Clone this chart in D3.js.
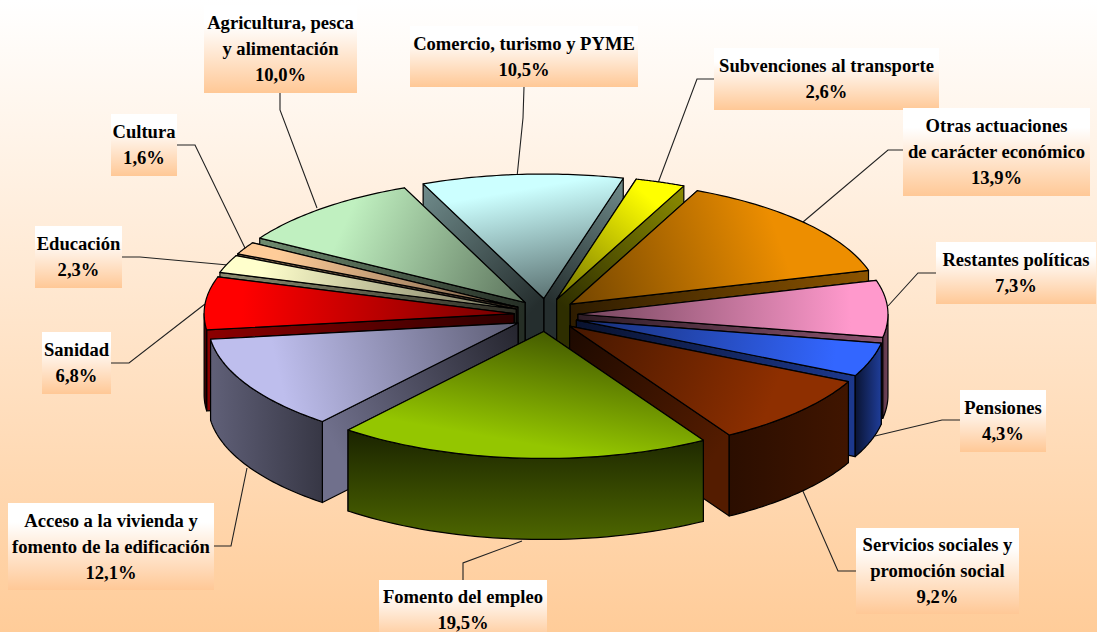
<!DOCTYPE html>
<html>
<head>
<meta charset="utf-8">
<script src="https://cdn.jsdelivr.net/npm/d3@7"></script>
<style>
  html, body { margin: 0; padding: 0; overflow: hidden; }
  text { font-family: "Liberation Serif", serif; font-weight: bold; font-size: 18.6px; fill: #000; }
</style>
</head>
<body>
<svg id="chart" width="1097" height="632"></svg>
<script>
// clockwise, starting with the slice at the back
const categories = [
  ["Comercio, turismo y PYME"],
  ["Subvenciones al transporte"],
  ["Otras actuaciones", "de carácter económico"],
  ["Restantes políticas"],
  ["Pensiones"],
  ["Servicios sociales y", "promoción social"],
  ["Fomento del empleo"],
  ["Acceso a la vivienda y", "fomento de la edificación"],
  ["Sanidad"],
  ["Educación"],
  ["Cultura"],
  ["Agricultura, pesca", "y alimentación"],
];
const values = [10.5, 2.6, 13.9, 7.3, 4.3, 9.2, 19.5, 12.1, 6.8, 2.3, 1.6, 10.0];
const colors = ["#ccffff", "#ffff00", "#ff9900", "#ff99cc", "#3366ff", "#993300",
                "#99cc00", "#ccccff", "#ff0000", "#ffffcc", "#ffcc99", "#ccffcc"];
// how bright the top face gets at the rim
const topPeak = [1, 1, 0.93, 1, 1, 0.93, 0.97, 0.93, 1, 1, 1, 0.94];

// label boxes [x0, y0, x1, y1], same order as categories
const labelBoxes = [
  [410, 26, 638, 87], [714, 48, 939, 110], [903, 108, 1090, 196], [936, 242, 1096, 304],
  [960, 390, 1046, 452], [856, 528, 1019, 614], [379, 580, 547, 640], [8, 503, 214, 590],
  [42, 332, 111, 394], [35, 226, 122, 288], [111, 114, 177, 176], [204, 5, 357, 93],
];
// leader lines from box to rim
const leaders = [
  [[524, 87], [523, 118], [517, 177]],
  [[714, 79], [697, 79], [658, 183]],
  [[903, 150], [888, 150], [803, 222]],
  [[936, 273], [918, 273], [888, 306]],
  [[960, 420], [942, 420], [875, 436]],
  [[856, 571], [838, 571], [802, 489]],
  [[463, 580], [463, 563], [522, 541]],
  [[214, 546], [231, 546], [247, 468]],
  [[111, 363], [129, 363], [205, 304]],
  [[122, 257], [140, 257], [228, 265]],
  [[177, 145], [195, 145], [245, 248]],
  [[280, 93], [280, 110], [317, 208]],
];
// shading of the rim wall: direction of gradient and dark factors at both ends
const rimShade = [
  null, null, null,
  { dir: [0, 0, 1, 0], f: [0.35, 0.45] },
  { dir: [0, 0, 1, 0], f: [0.2, 0.6] },
  { dir: [0, 0, 1, 0], f: [0.28, 0.42] },
  { dir: [0, 0, 0, 1], f: [0.17, 0.5] },
  { dir: [0, 0, 1, 0], f: [0.47, 0.27] },
  { dir: [0, 0, 0, 1], f: [0.35, 0.2] },
  null, null, null,
];

const width = 1097, height = 632;
const cx = 546, cy = 315; // pie centre on the top plane
const rx = 310, ryBack = 124.5, ryFront = 127, depth = 81;
const explodeX = 32, explodeY = 16.5;
const startDeg = -22.9;

const toRad = (d) => (d * Math.PI) / 180;
const svg = d3.select("#chart");
const defs = svg.append("defs");

// unit disc to screen, the front half is a bit larger than the back
const xScale = d3.scaleLinear().domain([-1, 1]).range([-rx, rx]);
const yScale = d3.scaleLinear().domain([-1, 0, 1]).range([ryFront, 0, -ryBack]);

const shade = (c, f) => d3.interpolateRgb("#000", c)(f);
const line = d3.line();

const pie = d3.pie().sort(null).value((d) => d)
  .startAngle(toRad(startDeg)).endAngle(toRad(startDeg + 360));

function makeGradient(id, stops, vec, userSpace) {
  const g = defs.append("linearGradient").attr("id", id);
  if (userSpace) g.attr("gradientUnits", "userSpaceOnUse");
  g.attr("x1", vec[0]).attr("y1", vec[1]).attr("x2", vec[2]).attr("y2", vec[3]);
  stops.forEach(([o, c]) => g.append("stop").attr("offset", o).attr("stop-color", c));
  return `url(#${id})`;
}

// background
const bg = makeGradient("bg", [[0, "#ffffff"], [1, "#ffcc99"]], [0, 0, 0, 1]);
svg.append("rect").attr("width", width).attr("height", height).attr("fill", bg);

const slices = pie(values).map((d, i) => {
  const mid = (d.startAngle + d.endAngle) / 2;
  const ax = cx + explodeX * Math.sin(mid);
  const ay = cy - explodeY * Math.cos(mid);
  const pt = (a, r = 1) => [ax + xScale(r * Math.sin(a)), ay + yScale(r * Math.cos(a))];
  return { ...d, i, mid, apex: [ax, ay], pt };
});

// leaders go under the pie
svg.append("g").selectAll("path").data(leaders).join("path")
  .attr("d", (d) => line(d))
  .attr("fill", "none").attr("stroke", "#222").attr("stroke-width", 1.1);

// painter's order, back to front
const ordered = slices.slice().sort((a, b) => Math.cos(b.mid) - Math.cos(a.mid));
const pieG = svg.append("g").attr("stroke", "#000").attr("stroke-width", 1.2).attr("stroke-linejoin", "round");

ordered.forEach((s) => {
  const c = colors[s.i];
  const g = pieG.append("g");
  const down = (p) => [p[0], p[1] + depth];

  // radial walls, the one further back goes first
  [s.startAngle, s.endAngle]
    .sort((a, b) => Math.cos(b) - Math.cos(a))
    .forEach((a, k) => {
      const corner = s.pt(a);
      const fill = makeGradient(`wall${s.i}_${k}`,
        [[0, shade(c, 0.18)], [1, shade(c, 0.55)]],
        [s.apex[0], s.apex[1], corner[0], corner[1]], true);
      g.append("path")
        .attr("d", line([s.apex, corner, down(corner), down(s.apex)]) + "Z")
        .attr("fill", fill);
    });

  // rim wall, only the part that faces the viewer
  const a0 = Math.max(s.startAngle, Math.PI / 2);
  const a1 = Math.min(s.endAngle, (3 * Math.PI) / 2);
  if (a1 > a0) {
    const angles = d3.range(0, 41).map((t) => a0 + ((a1 - a0) * t) / 40);
    const upper = angles.map((a) => s.pt(a));
    const lower = upper.map(down).reverse();
    const sh = rimShade[s.i] || { dir: [0, 0, 0, 1], f: [0.2, 0.5] };
    const fill = makeGradient(`rim${s.i}`, [[0, shade(c, sh.f[0])], [1, shade(c, sh.f[1])]], sh.dir);
    g.append("path").attr("d", line(upper.concat(lower)) + "Z").attr("fill", fill);
  }

  // top face
  const rimMid = s.pt(s.mid);
  const peak = shade(c, topPeak[s.i]);
  const topFill = makeGradient(`top${s.i}`,
    [[0, shade(c, 0.45)], [0.88, peak], [1, peak]],
    [s.apex[0], s.apex[1], rimMid[0], rimMid[1]], true);
  const arcPts = d3.range(0, 41).map((t) => s.pt(s.startAngle + ((s.endAngle - s.startAngle) * t) / 40));
  g.append("path").attr("d", line([s.apex, ...arcPts]) + "Z").attr("fill", topFill);
});

// labels
const boxFill = makeGradient("box", [[0, "#ffffff"], [0.22, "#ffffff"], [1, "#ffc896"]], [0, 0, 0, 1]);
const pct = (v) => d3.format(".1f")(v).replace(".", ",") + "%";
const lineH = 26;

const labels = svg.append("g").selectAll("g").data(categories).join("g");
labels.append("rect")
  .attr("x", (d, i) => labelBoxes[i][0])
  .attr("y", (d, i) => labelBoxes[i][1])
  .attr("width", (d, i) => labelBoxes[i][2] - labelBoxes[i][0])
  .attr("height", (d, i) => labelBoxes[i][3] - labelBoxes[i][1])
  .attr("fill", boxFill);
labels.each(function (d, i) {
  const b = labelBoxes[i];
  const rows = d.concat(pct(values[i]));
  const mx = (b[0] + b[2]) / 2, my = (b[1] + b[3]) / 2;
  rows.forEach((t, k) => {
    d3.select(this).append("text")
      .attr("x", mx)
      .attr("y", my + (k - (rows.length - 1) / 2) * lineH)
      .attr("dy", "0.33em")
      .attr("text-anchor", "middle")
      .text(t);
  });
});
</script>
</body>
</html>
